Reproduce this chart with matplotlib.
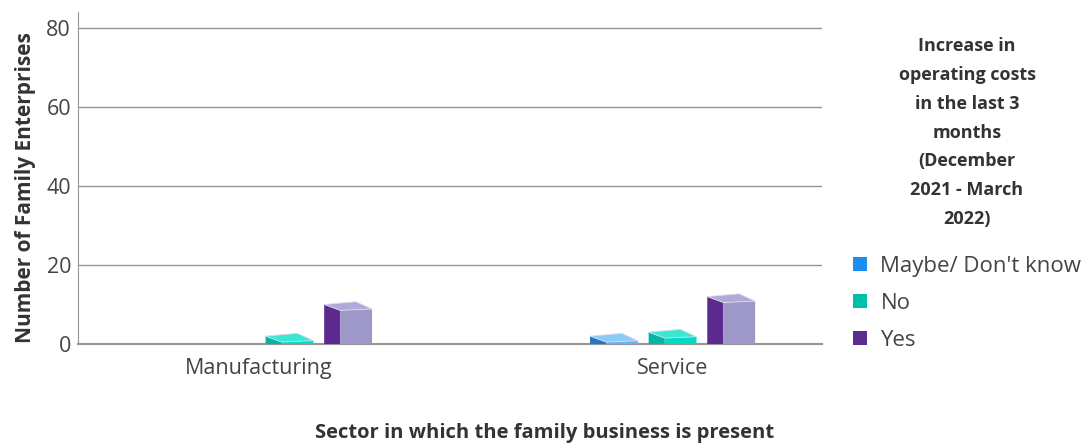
import matplotlib.pyplot as plt
from matplotlib.patches import Polygon, Patch

plt.rcParams['font.family'] = ['Open Sans', 'DejaVu Sans']

sectors = ["Manufacturing", "Service"]
answers = ["Maybe/ Don't know", "No", "Yes"]
maybe = [0, 2]
no = [2, 3]
yes = [10, 12]

legend_colors = ["#1a8ff0", "#00bfa8", "#5b2c91"]
front_colors = ["#62b6f6", "#00dcc4", "#9d98c8"]
side_colors = ["#1f78c2", "#00b6a4", "#5c2a8f"]
top_colors = ["#8ccaf8", "#3be6d2", "#b0abd6"]

fig = plt.figure(figsize=(10.82, 4.44), dpi=100)
ax = fig.add_axes([0.0721, 0.2252, 0.6876, 0.7478])

ax.set_xlim(-0.552, 1.39)
ax.set_ylim(0, 84)

# fake 3d depth: side face width (x units) and rise (y units)
dx = 0.042
dz = 1.5
slant = 0.7
width = 0.125
step = 0.153


def bar3d(x0, v, i):
    if v <= 0:
        return
    x1 = x0 + width
    xf = x0 + dx
    hf = max(v - dz, 0.15)
    # left side face
    ax.add_patch(Polygon([(x0, 0), (x0, v), (xf, hf), (xf, 0)],
                         closed=True, fc=side_colors[i], ec='none', zorder=3))
    # front face
    ax.add_patch(Polygon([(xf, 0), (xf, hf), (x1, hf + slant * 0.5), (x1, 0)],
                         closed=True, fc=front_colors[i], ec='none', zorder=3))
    # top face
    ax.add_patch(Polygon([(x0, v), (xf, hf), (x1, hf + slant * 0.5),
                          (x1 - dx, v + slant)],
                         closed=True, fc=top_colors[i], ec='#dcdaf0', lw=0.6, zorder=4))


for j in range(len(sectors)):
    for i, vals in enumerate([maybe, no, yes]):
        x0 = j + (i - 1) * step - width / 2
        bar3d(x0, vals[j], i)

ax.set_yticks([0, 20, 40, 60, 80])
ax.yaxis.grid(True, color='#959595', lw=1)
ax.set_axisbelow(True)
ax.tick_params(axis='y', length=0, labelsize=15.5, colors='#444444', pad=5)
ax.tick_params(axis='x', length=0, labelsize=15.5, colors='#444444', pad=10)
ax.set_xticks([-0.08, 1.0])
ax.set_xticklabels(sectors)

for s in ['top', 'right']:
    ax.spines[s].set_visible(False)
ax.spines['left'].set_color('#959595')
ax.spines['bottom'].set_color('#959595')
ax.spines['bottom'].set_linewidth(1.5)

ax.set_ylabel("Number of Family Enterprises", fontsize=15, fontweight='bold',
              color='#333333')
ax.yaxis.set_label_coords(-0.057, 0.47)
fig.text(0.503, 0.003, "Sector in which the family business is present",
         ha='center', va='bottom', fontsize=14.5, fontweight='bold', color='#333333')

handles = [Patch(facecolor=c, edgecolor='none') for c in legend_colors]
leg = fig.legend(handles, answers, loc='upper left', bbox_to_anchor=(0.788, 0.916),
                 frameon=False, fontsize=16, labelcolor='#444444',
                 title="Increase in\noperating costs\nin the last 3\nmonths\n(December\n2021 - March\n2022)",
                 title_fontproperties={'weight': 'bold', 'size': 13},
                 handlelength=0.65, handleheight=0.65, handletextpad=0.6,
                 labelspacing=0.72, borderaxespad=0, borderpad=0)
leg.get_title().set_linespacing(1.77)
leg.get_title().set_multialignment('center')
leg.get_title().set_color('#333333')
leg._legend_box.sep = 20

fig.savefig("out.png", dpi=100)
